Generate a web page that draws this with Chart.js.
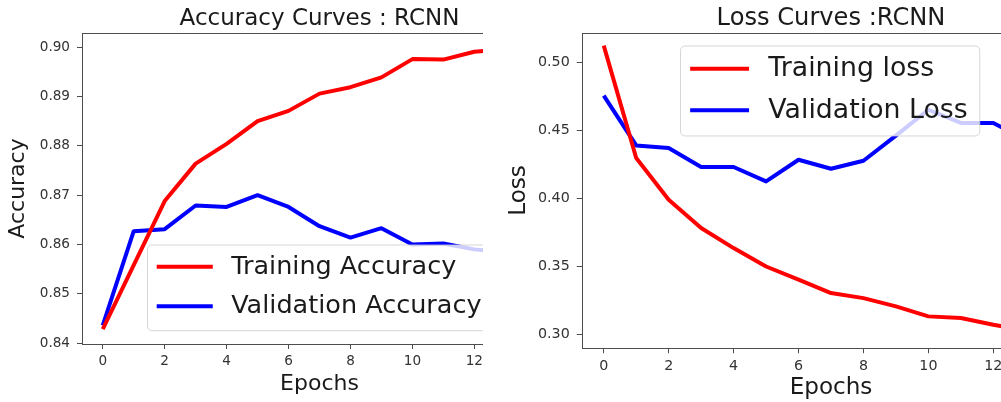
<!DOCTYPE html>
<html>
<head>
<meta charset="utf-8">
<title>RCNN curves</title>
<script src="https://cdn.jsdelivr.net/npm/chart.js@4.4.3/dist/chart.umd.min.js"></script>
<style>
  html, body { margin: 0; padding: 0; background: #fff; }
  #stage { position: relative; width: 1001px; height: 402px; overflow: hidden; background: #fff; }
  .panel { position: absolute; top: 0; height: 402px; overflow: hidden; }
  #acc-panel { left: 0; width: 483px; }
  #loss-panel { left: 500px; width: 501px; }
  canvas { position: absolute; left: 0; top: 0; }
</style>
</head>
<body>
<div id="stage">
  <div class="panel" id="acc-panel"><canvas id="acc-chart" width="557" height="402"></canvas></div>
  <div class="panel" id="loss-panel"><canvas id="loss-chart" width="580" height="402"></canvas></div>
</div>
<script>
// values
const epochs = [0, 1, 2, 3, 4, 5, 6, 7, 8, 9, 10, 11, 12, 13];
const trainAcc = [0.8428, 0.8558, 0.8688, 0.8764, 0.8804, 0.8850, 0.8871, 0.8906, 0.8919, 0.8939, 0.8976, 0.8975, 0.8991, 0.8996];
const valAcc = [0.8436, 0.8627, 0.8631, 0.8679, 0.8676, 0.8700, 0.8676, 0.8637, 0.8614, 0.8633, 0.8600, 0.8602, 0.8590, 0.8584];
const trainLoss = [0.5120, 0.4296, 0.3990, 0.3782, 0.3635, 0.3500, 0.3403, 0.3305, 0.3268, 0.3207, 0.3134, 0.3122, 0.3073, 0.3030];
const valLoss = [0.4753, 0.4388, 0.4369, 0.4230, 0.4230, 0.4124, 0.4283, 0.4217, 0.4276, 0.4460, 0.4650, 0.4553, 0.4553, 0.4430];
const epochTicks = [0, 2, 4, 6, 8, 10, 12, 14];
const accTicks = [0.84, 0.85, 0.86, 0.87, 0.88, 0.89, 0.90];
const lossTicks = [0.30, 0.35, 0.40, 0.45, 0.50];

const FONT = "'DejaVu Sans', 'Liberation Sans', sans-serif";
const SPINE = "#4d4d4d";

/**
 * Pair an x array with a y array as {x, y} points.
 */
function points(xs, ys) {
  return xs.map((x, i) => ({ x: x, y: ys[i] }));
}

/**
 * Draws the top spine, the title and a matplotlib-like legend over the plot.
 */
const framePlugin = {
  id: "frame",
  afterDraw(chart, args, o) {
    const ctx = chart.ctx;
    const a = chart.chartArea;
    ctx.save();
    // top spine
    ctx.strokeStyle = SPINE;
    ctx.lineWidth = 1;
    ctx.beginPath();
    ctx.moveTo(a.left, Math.round(a.top) + 0.5);
    ctx.lineTo(a.right, Math.round(a.top) + 0.5);
    ctx.stroke();
    // title
    ctx.fillStyle = "#1a1a1a";
    ctx.font = o.titleSize + "px " + FONT;
    ctx.textAlign = "center";
    ctx.textBaseline = "alphabetic";
    ctx.fillText(o.title, (a.left + a.right) / 2, o.titleY);
    // legend
    const fs = o.legendSize;
    const items = chart.data.datasets;
    ctx.font = fs + "px " + FONT;
    const pad = 0.36 * fs, hl = 2.2 * fs, gap = 0.72 * fs;
    const tw = Math.max.apply(null, items.map(d => ctx.measureText(d.label).width));
    const w = pad + hl + gap + tw + 0.45 * fs;
    const h = 3.36 * fs;
    const r = 0.17 * fs;
    const x = o.legendX, y = o.legendY;
    ctx.beginPath();
    ctx.moveTo(x + r, y);
    ctx.arcTo(x + w, y, x + w, y + h, r);
    ctx.arcTo(x + w, y + h, x, y + h, r);
    ctx.arcTo(x, y + h, x, y, r);
    ctx.arcTo(x, y, x + w, y, r);
    ctx.closePath();
    ctx.fillStyle = "rgba(255,255,255,0.8)";
    ctx.fill();
    ctx.strokeStyle = "rgba(204,204,204,0.8)";
    ctx.lineWidth = 1;
    ctx.stroke();
    items.forEach((d, i) => {
      const cy = y + 0.85 * fs + i * 1.55 * fs;
      ctx.strokeStyle = d.borderColor;
      ctx.lineWidth = d.borderWidth;
      ctx.beginPath();
      ctx.moveTo(x + pad, cy);
      ctx.lineTo(x + pad + hl, cy);
      ctx.stroke();
      ctx.fillStyle = "#1a1a1a";
      ctx.textAlign = "left";
      ctx.textBaseline = "middle";
      ctx.fillText(d.label, x + pad + hl + gap, cy + 0.5);
    });
    ctx.restore();
  },
};

/**
 * Build one line chart panel.
 */
function makeChart(id, cfg) {
  const s = cfg.scale;
  return new Chart(document.getElementById(id), {
    type: "line",
    data: {
      datasets: [
        {
          label: cfg.labels[0],
          data: points(epochs, cfg.series[0]),
          borderColor: "#ff0000",
          borderWidth: 4,
          pointRadius: 0,
          tension: 0,
          borderJoinStyle: "round",
        },
        {
          label: cfg.labels[1],
          data: points(epochs, cfg.series[1]),
          borderColor: "#0000ff",
          borderWidth: 4,
          pointRadius: 0,
          tension: 0,
          borderJoinStyle: "round",
        },
      ],
    },
    options: {
      responsive: false,
      devicePixelRatio: 1,
      animation: false,
      layout: { padding: { top: 33, right: 0, bottom: 0, left: 0 } },
      scales: {
        x: {
          type: "linear",
          min: -0.67,
          max: 14.67,
          afterBuildTicks: sc => { sc.ticks = epochTicks.map(v => ({ value: v })); },
          afterFit: sc => { sc.height = cfg.xHeight; },
          grid: { drawOnChartArea: false, tickLength: 5 * s, color: SPINE },
          border: { color: SPINE, width: 1 },
          ticks: {
            font: { family: FONT, size: 13.6 * s },
            color: "#333",
            padding: 4,
            maxRotation: 0,
            autoSkip: false,
            callback: v => String(v),
          },
          title: {
            display: true,
            text: "Epochs",
            color: "#1a1a1a",
            font: { family: FONT, size: 22 * s, lineHeight: 1.2 },
            padding: { top: 0, bottom: cfg.xTitlePad },
          },
        },
        y: {
          min: cfg.yMin,
          max: cfg.yMax,
          afterBuildTicks: sc => { sc.ticks = cfg.yTicks.map(v => ({ value: v })); },
          afterFit: sc => { sc.width = 82; },
          grid: { drawOnChartArea: false, tickLength: 5 * s, color: SPINE },
          border: { color: SPINE, width: 1 },
          ticks: {
            font: { family: FONT, size: 13.6 * s },
            color: "#333",
            padding: 7,
            autoSkip: false,
            callback: v => Number(v).toFixed(2),
          },
          title: {
            display: true,
            text: cfg.yTitle,
            color: "#1a1a1a",
            font: { family: FONT, size: 22 * s, lineHeight: 1.2 },
            padding: { top: 5, bottom: 0 },
          },
        },
      },
      plugins: {
        legend: { display: false },
        tooltip: { enabled: false },
        frame: {
          title: cfg.title,
          titleSize: 23 * s,
          titleY: 25,
          legendSize: 25.5 * s,
          legendX: cfg.legendX,
          legendY: cfg.legendY,
        },
      },
    },
    plugins: [framePlugin],
  });
}

makeChart("acc-chart", {
  scale: 1,
  title: "Accuracy Curves : RCNN",
  labels: ["Training Accuracy", "Validation Accuracy"],
  series: [trainAcc, valAcc],
  yTitle: "Accuracy",
  yMin: 0.8398,
  yMax: 0.9029,
  yTicks: accTicks,
  xHeight: 58,
  xTitlePad: 5,
  legendX: 147.5,
  legendY: 245,
});

makeChart("loss-chart", {
  scale: 1.05,
  title: "Loss Curves :RCNN",
  labels: ["Training loss", "Validation Loss"],
  series: [trainLoss, valLoss],
  yTitle: "Loss",
  yMin: 0.2902,
  yMax: 0.5213,
  yTicks: lossTicks,
  xHeight: 54,
  xTitlePad: 0,
  legendX: 180.5,
  legendY: 46,
});
</script>
</body>
</html>
